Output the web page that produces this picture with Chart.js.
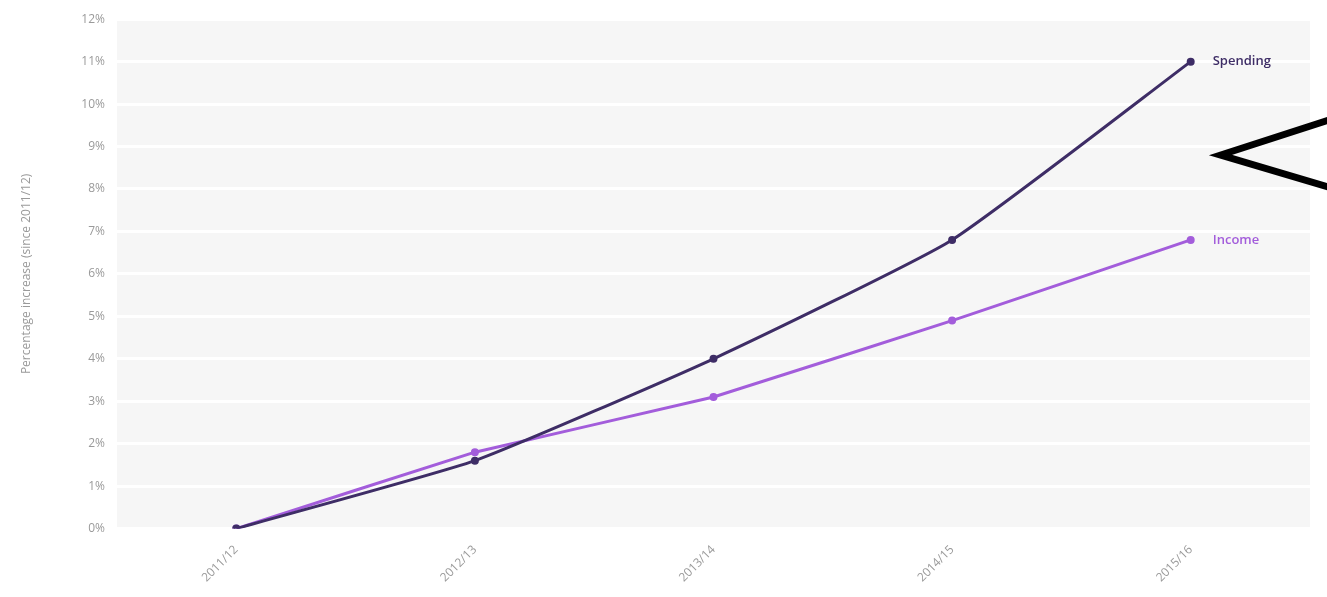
<!DOCTYPE html>
<html>
<head>
<meta charset="utf-8">
<script src="https://cdn.jsdelivr.net/npm/chart.js@4/dist/chart.umd.min.js"></script>
<style>
  html, body { margin: 0; padding: 0; background: #fff; }
  #wrap { width: 1327px; height: 597px; position: relative; }
</style>
</head>
<body>
<div id="wrap"><canvas id="lineChart"></canvas></div>
<script>
const years = ['2011/12', '2012/13', '2013/14', '2014/15', '2015/16'];
const spending = [0, 1.6, 4.0, 6.8, 11.0];
const income = [0, 1.8, 3.1, 4.9, 6.8];
const yTicks = [0, 1, 2, 3, 4, 5, 6, 7, 8, 9, 10, 11, 12];

// grey panel behind the plot
const panelBg = {
    id: 'panelBg',
    beforeDraw(chart) {
        const { ctx, chartArea: a } = chart;
        ctx.save();
        ctx.fillStyle = '#f6f6f6';
        ctx.fillRect(a.left, a.top, a.right - a.left, a.bottom - a.top);
        ctx.restore();
    }
};

// series names at the end of each line + the black arrow mark
const endLabels = {
    id: 'endLabels',
    afterDatasetsDraw(chart) {
        const ctx = chart.ctx;
        ctx.save();
        ctx.font = '600 13px "Open Sans", sans-serif';
        ctx.textBaseline = 'middle';
        chart.data.datasets.forEach((ds, i) => {
            const pts = chart.getDatasetMeta(i).data;
            const last = pts[pts.length - 1];
            ctx.fillStyle = ds.borderColor;
            ctx.fillText(ds.label, last.x + 22, last.y);
        });
        const x = chart.scales.x, y = chart.scales.y;
        const tipX = x.getPixelForValue(4) + 30;
        const tipY = y.getPixelForValue(8.8);
        ctx.strokeStyle = '#000';
        ctx.lineWidth = 7;
        ctx.lineJoin = 'miter';
        ctx.beginPath();
        ctx.moveTo(chart.width + 5, tipY - 36);
        ctx.lineTo(tipX, tipY);
        ctx.lineTo(chart.width + 5, tipY + 33);
        ctx.stroke();
        ctx.restore();
    }
};

const drawLineChart = () => {
    const ctx = document.getElementById('lineChart').getContext('2d');
    new Chart(ctx, {
        type: 'line',
        data: {
            labels: years,
            datasets: [{
                label: 'Spending',
                data: spending,
                borderColor: '#3e2d66',
                backgroundColor: '#3e2d66',
                borderWidth: 3,
                pointRadius: 2.5,
                tension: 0.15
            }, {
                label: 'Income',
                data: income,
                borderColor: '#a35ddb',
                backgroundColor: '#a35ddb',
                borderWidth: 3,
                pointRadius: 2.5,
                tension: 0.05
            }]
        },
        options: {
            responsive: true,
            maintainAspectRatio: false,
            animation: false,
            layout: { padding: { top: 11, right: 17, left: 15, bottom: 6 } },
            plugins: {
                legend: { display: false },
                tooltip: { enabled: false }
            },
            scales: {
                x: {
                    offset: true,
                    grid: { display: false },
                    border: { display: false },
                    ticks: {
                        color: '#9a9a9a',
                        font: { family: '"Open Sans", sans-serif', size: 12 },
                        minRotation: 45,
                        maxRotation: 45,
                        padding: 6
                    }
                },
                y: {
                    min: 0,
                    max: 12,
                    afterBuildTicks: (scale) => {
                        scale.ticks = yTicks.map(v => ({ value: v }));
                    },
                    afterFit: (scale) => { scale.width = 102; },
                    grid: { color: '#ffffff', lineWidth: 3, drawTicks: false },
                    border: { display: false },
                    ticks: {
                        color: '#9a9a9a',
                        font: { family: '"Open Sans", sans-serif', size: 12 },
                        padding: 12,
                        callback: (v) => v + '%'
                    },
                    title: {
                        display: true,
                        text: 'Percentage increase (since 2011/12)',
                        color: '#9a9a9a',
                        font: { family: '"Open Sans", sans-serif', size: 12 }
                    }
                }
            }
        },
        plugins: [panelBg, endLabels]
    });
}

drawLineChart();
</script>
</body>
</html>
